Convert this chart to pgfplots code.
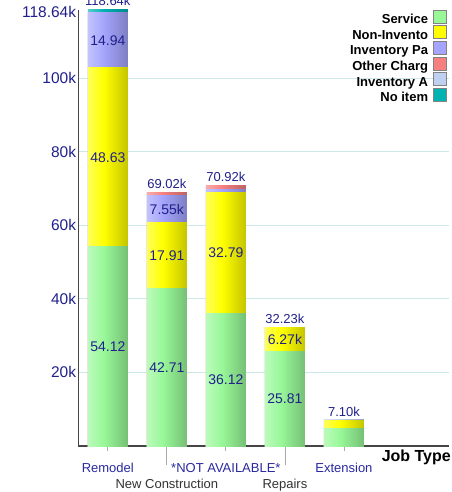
\documentclass[border=0pt]{standalone}
\usepackage{pgfplots}
\pgfplotsset{compat=1.18}
\usepackage{fontspec}
\setmainfont{Liberation Sans}
\definecolor{cS}{RGB}{152,248,152}
\definecolor{cN}{RGB}{255,255,0}
\definecolor{cP}{RGB}{164,164,252}
\definecolor{cO}{RGB}{246,128,128}
\definecolor{cA}{RGB}{192,208,240}
\definecolor{cI}{RGB}{0,178,178}
\definecolor{navyc}{RGB}{32,32,140}
\definecolor{bluec}{RGB}{40,40,160}
\definecolor{greyc}{RGB}{50,50,50}
\definecolor{axc}{RGB}{70,70,70}
\definecolor{gridc}{RGB}{205,232,232}
\definecolor{tickc}{RGB}{170,170,170}
\definecolor{legb}{RGB}{130,130,130}
\newcommand\defshade[2]{\pgfdeclarehorizontalshading{#1}{100bp}{color(0bp)=(#2!88!black); color(22bp)=(#2!60!white); color(45bp)=(#2); color(100bp)=(#2!58!black)}}
\defshade{shS}{cS}
\defshade{shN}{cN}
\defshade{shP}{cP}
\defshade{shO}{cO}
\defshade{shA}{cA}
\defshade{shI}{cI}
\newcommand\legbox[1]{\filldraw[fill=#1, draw=legb, line width=0.7pt] (0pt,-3pt) rectangle (13pt,10pt);}
% one bar (from 0 to the cumulative top of a segment), drawn on its own so that it gets its own shading
\newcommand\segbar[3]{\addplot[forget plot, draw=none, shade, shading=#1, bar width=40pt, bar shift=0pt] coordinates {(#2,#3)};}
\tikzset{
  lab/.style={font=\fontsize{14}{16}\selectfont, color=navyc, inner sep=0pt},
  tot/.style={font=\fontsize{13}{15}\selectfont, color=navyc, inner sep=0pt, anchor=south, yshift=3.5pt},
}
\begin{document}
\begin{tikzpicture}
\path[use as bounding box] (0,0) rectangle (451pt,-492pt);
\begin{axis}[
  at={(78.3pt,-446pt)}, anchor=south west,
  width=370.7pt, height=436.5pt, scale only axis,
  ybar, bar width=40pt,
  xmin=-0.5, xmax=5.78, ymin=0, ymax=118.64,
  clip=false,
  axis x line*=bottom, axis y line*=left,
  axis line style={draw=axc, line width=1.1pt, -},
  ymajorgrids, grid style={draw=gridc, line width=0.9pt},
  ytick={20,40,60,80,100}, yticklabels={20k,40k,60k,80k,100k},
  extra y ticks={118.64}, extra y tick labels={118.64k},
  extra y tick style={grid=none, yticklabel style={yshift=-2pt}},
  ytick style={draw=none},
  yticklabel style={font=\fontsize{15.5}{18}\selectfont, color=navyc, inner sep=0pt, xshift=-2pt},
  xtick={0,2,4}, xticklabels={Remodel,*NOT AVAILABLE*,Extension},
  extra x ticks={1,3}, extra x tick labels={New Construction,Repairs},
  extra x tick style={major tick length=19pt, xticklabel style={color=greyc, yshift=-2pt}},
  xtick align=outside, major tick length=5pt,
  xtick style={draw=tickc, line width=0.8pt},
  xticklabel style={font=\fontsize{13}{15}\selectfont, color=bluec, anchor=north, inner sep=0pt, yshift=-12pt},
  /pgf/number format/assume math mode=true,
  xlabel={Job Type},
  xlabel style={at={(axis description cs:1,0)}, anchor=north east, font=\bfseries\fontsize{16}{18}\selectfont, inner sep=0pt, yshift=-4pt, xshift=2pt},
  legend style={at={(axis description cs:1,1)}, anchor=north east, xshift=-2pt, yshift=0pt,
    draw=none, fill=none, inner sep=0pt, row sep=-1.2pt, column sep=5pt,
    font=\bfseries\fontsize{13}{15}\selectfont,
    nodes={inner sep=0pt, text height=10pt, text depth=3pt}},
  legend cell align=right,
  legend plot pos=right,
]
\addlegendimage{legend image code/.code={\legbox{cS}}}
\addlegendentry{Service}
\addlegendimage{legend image code/.code={\legbox{cN}}}
\addlegendentry{Non-Invento}
\addlegendimage{legend image code/.code={\legbox{cP}}}
\addlegendentry{Inventory Pa}
\addlegendimage{legend image code/.code={\legbox{cO}}}
\addlegendentry{Other Charg}
\addlegendimage{legend image code/.code={\legbox{cA}}}
\addlegendentry{Inventory A}
\addlegendimage{legend image code/.code={\legbox{cI}}}
\addlegendentry{No item}
% cumulative segment tops, (k), per job type: No item, Inventory A, Other Charg, Inventory Pa, Non-Invento, Service
% Remodel
\segbar{shI}{0}{118.64}\segbar{shA}{0}{117.84}\segbar{shO}{0}{117.79}\segbar{shP}{0}{117.69}\segbar{shN}{0}{102.75}\segbar{shS}{0}{54.12}
% New Construction
\segbar{shI}{1}{69.02}\segbar{shA}{1}{68.82}\segbar{shO}{1}{68.77}\segbar{shP}{1}{68.17}\segbar{shN}{1}{60.62}\segbar{shS}{1}{42.71}
% *NOT AVAILABLE*
\segbar{shA}{2}{70.92}\segbar{shO}{2}{70.71}\segbar{shP}{2}{69.61}\segbar{shN}{2}{68.91}\segbar{shS}{2}{36.12}
% Repairs
\segbar{shI}{3}{32.23}\segbar{shP}{3}{32.15}\segbar{shN}{3}{32.08}\segbar{shS}{3}{25.81}
% Extension
\segbar{shA}{4}{7.10}\segbar{shP}{4}{7.02}\segbar{shN}{4}{6.88}\segbar{shS}{4}{4.81}
\coordinate (l1) at (axis cs:0,27.06);
\coordinate (l2) at (axis cs:0,78.435);
\coordinate (l3) at (axis cs:0,110.22);
\coordinate (l4) at (axis cs:1,21.355);
\coordinate (l5) at (axis cs:1,51.665);
\coordinate (l6) at (axis cs:1,64.395);
\coordinate (l7) at (axis cs:2,18.06);
\coordinate (l8) at (axis cs:2,52.515);
\coordinate (l9) at (axis cs:3,12.905);
\coordinate (l10) at (axis cs:3,28.945);
\coordinate (t1) at (axis cs:0,118.64);
\coordinate (t2) at (axis cs:1,69.02);
\coordinate (t3) at (axis cs:2,70.92);
\coordinate (t4) at (axis cs:3,32.23);
\coordinate (t5) at (axis cs:4,7.10);
\end{axis}
\node[lab] at (l1) {54.12};
\node[lab] at (l2) {48.63};
\node[lab] at (l3) {14.94};
\node[lab] at (l4) {42.71};
\node[lab] at (l5) {17.91};
\node[lab] at (l6) {7.55k};
\node[lab] at (l7) {36.12};
\node[lab] at (l8) {32.79};
\node[lab] at (l9) {25.81};
\node[lab] at (l10) {6.27k};
\node[tot] at (t1) {118.64k};
\node[tot] at (t2) {69.02k};
\node[tot] at (t3) {70.92k};
\node[tot] at (t4) {32.23k};
\node[tot] at (t5) {7.10k};
\end{tikzpicture}
\end{document}
